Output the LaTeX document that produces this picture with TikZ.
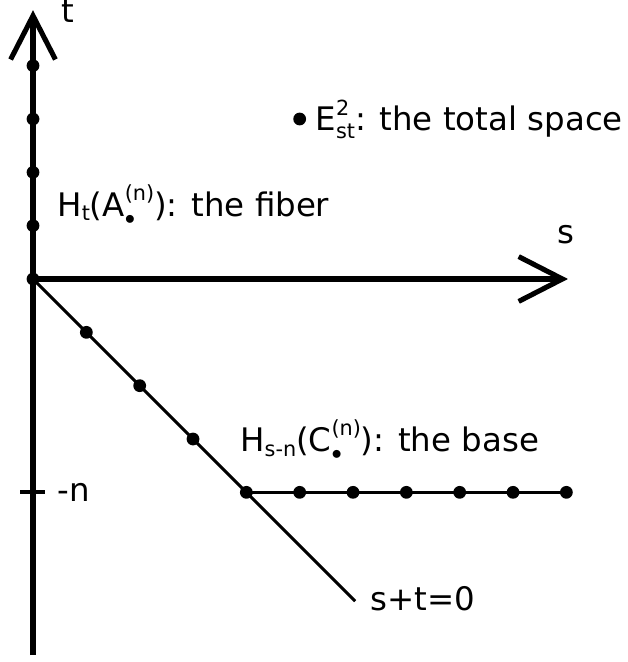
\documentclass[tikz,border=0pt]{standalone}
\usepackage{amsmath}
\usepackage{fontspec}
\setmainfont{DejaVu Sans}
\DeclareMathSizes{17.3}{17.3}{11.1}{8.5}
\usepackage{tikz}
\usetikzlibrary{calc, arrows.meta}

\tikzset{
  axis/.style = {line width = 2.7pt, -{Straight Barb[length = 0.82cm, width = 0.84cm]}},
  dot/.style = {circle, fill, inner sep = 0pt, minimum size = 0.24cm},
  lbl/.style = {font = \fontsize{17.3}{20}\selectfont, inner sep = 0pt}
}

\begin{document}
\scriptspace=0pt
\begin{tikzpicture}
  \useasboundingbox (-0.619, -7.181) rectangle (11.138, 5.231);
  \coordinate (O) at (0, 0);
  \coordinate (B) at (4, -4);

  \draw[axis] (0, -7.05) -- (0, 5.04) coordinate (T);
  \draw[axis] (O) -- (10.03, 0) coordinate (S);
  \node[lbl, anchor = base] at (0.66, 4.80) {t};
  \node[lbl, anchor = base] at (9.99, 0.675) {s};

  \draw[line width = 2pt] (-0.24, -4) -- (0.23, -4);
  \node[lbl, anchor = base west] at (0.45, -4.18) {-n};
  \draw[line width = 1.6pt] (O) -- (6.04, -6.04) coordinate (D);
  \node[lbl, anchor = base west] at (6.32, -6.21) {s+t=0};
  \draw[line width = 1.6pt] (B) -- (10, -4);

  \foreach \y in {0, 1, 2, 3, 4} \node[dot] at (0, \y) {};
  \foreach \k in {1, 2, 3} \node[dot] at (\k, -\k) {};
  \foreach \x in {4, ..., 10} \node[dot] at (\x, -4) {};

  \node[dot] (E) at (5, 3) {};
  \node[lbl, anchor = base west] at (5.29, 2.78) {$\text{E}^{\text{2}}_{\text{st}}$: the total space};
  \node[lbl, anchor = base west] at (0.45, 1.18) {H$_{\text{t}}$($\text{A}^{\text{(n)}}_{\bullet}$): the fiber};
  \node[lbl, anchor = base west] at (3.88, -3.24) {H$_{\text{s-n}}$($\text{C}^{\text{(n)}}_{\bullet}$): the base};
\end{tikzpicture}
\end{document}
